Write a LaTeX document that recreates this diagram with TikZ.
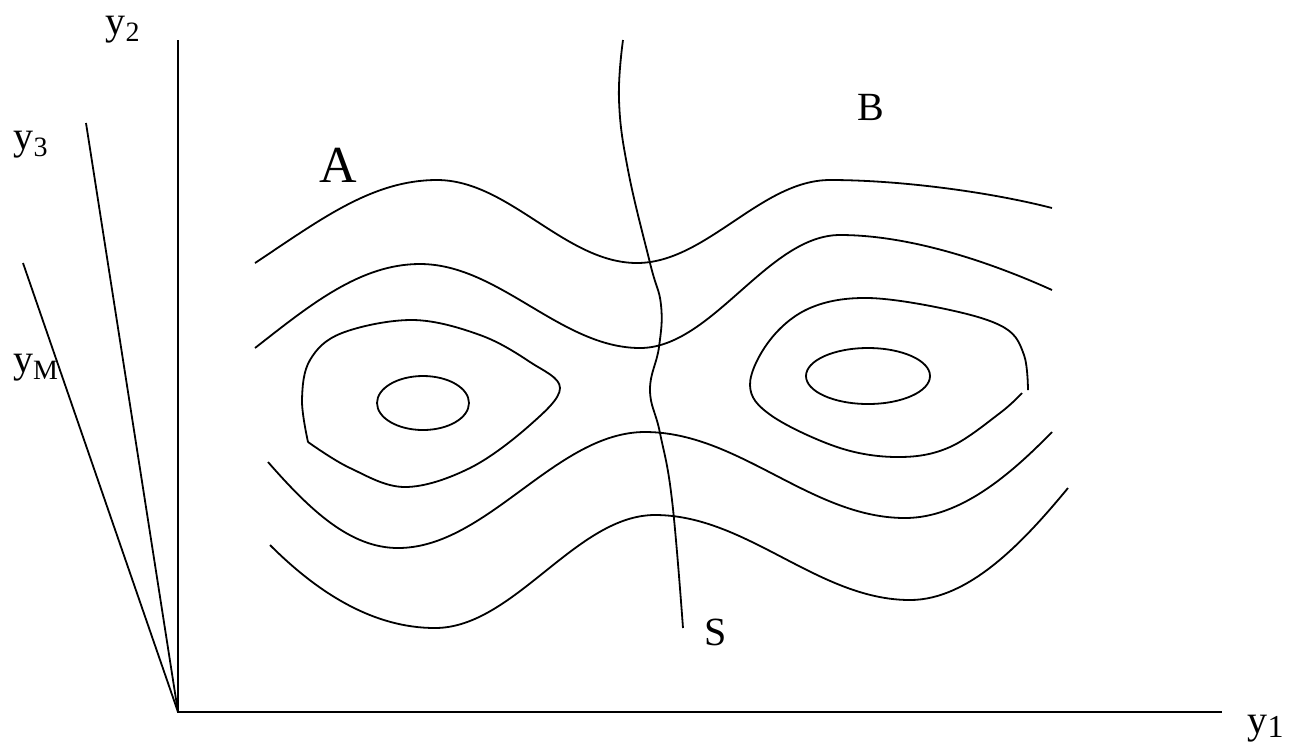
\documentclass[tikz,border=0pt]{standalone}
\usepackage{fontspec}
\setmainfont{Liberation Serif}
\begin{document}
\begin{tikzpicture}[x=0.5pt,y=-0.5pt,
  curve/.style={line width=0.9pt,line join=round},
  axis/.style={line width=0.9pt},
  lbl/.style={inner sep=0pt,font=\fontsize{20}{24}\selectfont},
  big/.style={inner sep=0pt,font=\fontsize{26}{30}\selectfont}]
\useasboundingbox (0,0) rectangle (1290,746);
% axes
\coordinate (O) at (178,712);
\coordinate (y2e) at (178,40);
\coordinate (y1e) at (1222,712);
\coordinate (y3e) at (86,123);
\coordinate (yMe) at (23,263);
\draw[axis] (y2e) -- (O) -- (y1e);
\draw[axis] (O) -- (y3e);
\draw[axis] (O) -- (yMe);
% labels
\node[lbl] (ly2) at (123,30) {y\textsubscript{2}};
\node[lbl] (ly3) at (31,145) {y\textsubscript{3}};
\node[lbl] (lyM) at (36,368) {y\textsubscript{M}};
\node[lbl,anchor=east] (ly1) at (1284,729) {y{\fontsize{16}{18}\selectfont\raisebox{-0.25ex}{1}}};
\node[big] (lA) at (338,165) {A};
\node[lbl] (lB) at (871,107) {B};
\node[lbl] (lS) at (716,632) {S};
% level curves
\draw[curve] (255,263) .. controls (320,220) and (372,180) .. (437,180)
  .. controls (509,180) and (565,263) .. (637,263)
  .. controls (706,263) and (761,180) .. (830,180)
  .. controls (900,180) and (990,192) .. (1052,208);
\draw[curve] (255,348) .. controls (310,305) and (360,264) .. (420,264)
  .. controls (499,264) and (561,348) .. (640,348)
  .. controls (712,348) and (768,235) .. (840,235)
  .. controls (910,235) and (990,262) .. (1052,290);
\draw[curve] plot[smooth,tension=0.6] coordinates {(308,442) (302,400) (310,360) (342,333) (413,320) (480,335) (530,362) (560,388) (530,425) (470,468) (405,487) (350,468) (308,442)};
\draw[curve] plot[smooth,tension=0.6] coordinates {(1028,390) (1024,355) (1005,328) (950,310) (868,298) (810,308) (770,340) (750,385) (772,416) (840,448) (900,457) (950,447) (1000,413) (1022,393)};
\draw[curve] (423,403) ellipse [x radius=46, y radius=27];
\draw[curve] (868,376) ellipse [x radius=62, y radius=28];
\draw[curve] (268,462) .. controls (310,510) and (350,548) .. (398,548)
  .. controls (487,548) and (556,432) .. (645,432)
  .. controls (739,432) and (811,518) .. (905,518)
  .. controls (960,518) and (1010,475) .. (1052,432);
\draw[curve] (270,545) .. controls (320,595) and (375,628) .. (435,628)
  .. controls (514,628) and (576,515) .. (655,515)
  .. controls (747,515) and (818,600) .. (910,600)
  .. controls (970,600) and (1025,540) .. (1068,488);
% separatrix S
\draw[curve] plot[smooth,tension=0.7] coordinates {(623,40) (619,100) (628,170) (650,263) (661,305) (659,347) (650,390) (660,433) (672,500) (683,628)};
\end{tikzpicture}
\end{document}
